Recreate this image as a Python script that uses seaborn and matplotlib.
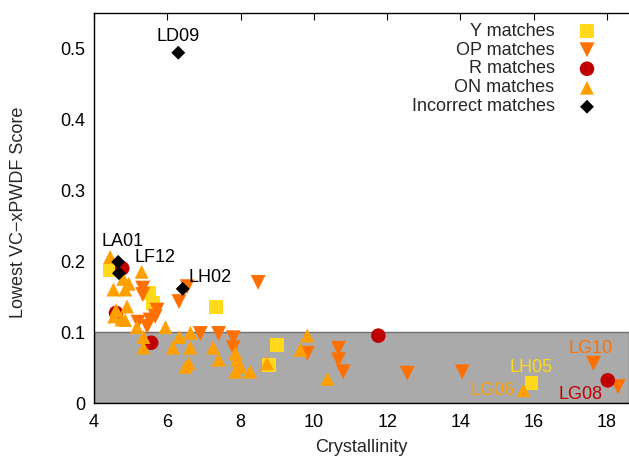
import matplotlib
matplotlib.use("Agg")
import matplotlib.pyplot as plt
import seaborn as sns
import pandas as pd

# Crystallinity / lowest VC-xPWDF score per match category
y_x = [4.44, 5.50, 5.60, 7.33, 9.00, 8.78, 15.94]
y_y = [0.188, 0.155, 0.141, 0.136, 0.082, 0.054, 0.028]

op_x = [5.33, 5.33, 6.32, 6.54, 8.48, 5.72, 5.67, 5.53, 5.20, 5.45, 6.90, 7.40,
        7.80, 7.80, 9.82, 10.67, 10.67, 10.80, 12.55, 14.05, 17.63, 18.30]
op_y = [0.162, 0.153, 0.143, 0.164, 0.170, 0.131, 0.122, 0.117, 0.114, 0.108, 0.098, 0.098,
        0.092, 0.078, 0.070, 0.077, 0.061, 0.044, 0.042, 0.044, 0.056, 0.023]

r_x = [4.77, 4.60, 5.56, 11.76, 18.02]
r_y = [0.190, 0.127, 0.085, 0.095, 0.032]

on_x = [4.44, 5.30, 4.80, 4.95, 4.53, 4.85, 4.90, 4.60, 4.55, 4.75, 4.85, 5.17,
        5.35, 5.35, 5.95, 6.15, 6.33, 6.63, 6.63, 6.58, 6.50, 7.25, 7.40, 7.86,
        7.90, 8.00, 7.86, 8.26, 8.72, 9.63, 9.82, 10.37, 15.72]
on_y = [0.206, 0.185, 0.175, 0.168, 0.160, 0.160, 0.136, 0.131, 0.122, 0.118, 0.117, 0.107,
        0.093, 0.078, 0.107, 0.078, 0.093, 0.099, 0.078, 0.056, 0.051, 0.078, 0.061, 0.070,
        0.061, 0.051, 0.044, 0.044, 0.056, 0.075, 0.095, 0.034, 0.018]

bad_x = [6.30, 4.66, 4.68, 6.42]
bad_y = [0.494, 0.199, 0.183, 0.161]

# Named structures
label_names = ["LD09", "LA01", "LF12", "LH02", "LH05", "LG06", "LG10", "LG08"]
label_x = [6.30, 4.66, 4.68, 6.42, 15.94, 15.72, 17.63, 18.02]
label_y = [0.494, 0.199, 0.183, 0.161, 0.028, 0.018, 0.056, 0.032]

C_Y = "#ffd91a"
C_OP = "#ff7000"
C_R = "#c00000"
C_ON = "#ffa000"
C_BAD = "#000000"

FS = 13

sns.set_theme(style="white")
plt.rcParams["font.family"] = ["Liberation Sans", "DejaVu Sans"]
plt.rcParams["font.size"] = FS

fig = plt.figure(figsize=(6.29, 4.58), dpi=100)
ax = fig.add_axes([94 / 629, 1 - 403 / 458, 1 - 94 / 629, (403 - 13) / 458])

ax.axhspan(0, 0.1, facecolor="#aaaaaa", edgecolor="#707070", linewidth=1.0, zorder=0)

groups = [
    ("Y matches", y_x, y_y, "s", C_Y, 100),
    ("OP matches", op_x, op_y, "v", C_OP, 115),
    ("R matches", r_x, r_y, "o", C_R, 110),
    ("ON matches", on_x, on_y, "^", C_ON, 100),
    ("Incorrect matches", bad_x, bad_y, "D", C_BAD, 50),
]
for i, (name, xs, ys, mk, col, size) in enumerate(groups):
    df = pd.DataFrame({"Crystallinity": xs, "Score": ys})
    sns.scatterplot(data=df, x="Crystallinity", y="Score", ax=ax, marker=mk,
                    color=col, s=size, linewidth=0, edgecolor="none",
                    label=name, zorder=3 + i)

# Text annotations for selected structures
label_colors = [C_BAD, C_BAD, C_BAD, C_BAD, C_Y, C_ON, C_OP, C_R]
label_offsets = [(0, 12), (-12, 15), (11, 11), (4, 8), (0, 11), (-6, 0), (-2, 11), (-4, -10)]
label_ha = ["center", "left", "left", "left", "center", "right", "center", "right"]
for nm, lx, ly, c, off, ha in zip(label_names, label_x, label_y, label_colors,
                                  label_offsets, label_ha):
    ax.annotate(nm, xy=(lx, ly), xytext=off, textcoords="offset points",
                ha=ha, va="center", color=c, fontsize=FS, zorder=10)

ax.set_xlim(4, 18.6)
ax.set_ylim(0, 0.55)
ax.set_xticks([4, 6, 8, 10, 12, 14, 16, 18])
ax.set_yticks([0, 0.1, 0.2, 0.3, 0.4, 0.5])
ax.set_yticklabels(["0", "0.1", "0.2", "0.3", "0.4", "0.5"])
ax.tick_params(direction="in", length=5, width=0.8, top=True, right=False,
               labelsize=FS, colors="black", pad=6)
ax.tick_params(axis="x", pad=8)
for sp in ax.spines.values():
    sp.set_color("black")
    sp.set_linewidth(1.0)
ax.spines["right"].set_visible(False)

ax.set_xlabel("Crystallinity", fontsize=FS)
ax.set_ylabel("Lowest VC\u2212xPWDF Score", fontsize=FS)
ax.xaxis.set_label_coords(0.5, -0.113)
ax.yaxis.set_label_coords(-0.142, 0.49)
ax.xaxis.label.set_va("center")
ax.yaxis.label.set_va("center")

leg = ax.legend(loc="upper right", bbox_to_anchor=(0.962, 1.008), frameon=False,
                markerfirst=False, fontsize=FS, labelspacing=0.11,
                handletextpad=1.3, borderaxespad=0.3, handlelength=1.0)

fig.savefig("out.png", dpi=100, facecolor="white")
